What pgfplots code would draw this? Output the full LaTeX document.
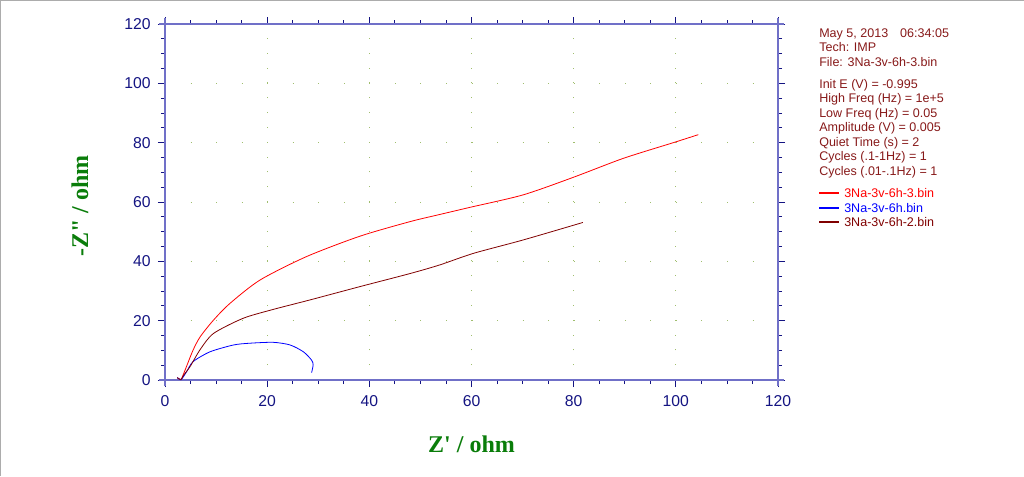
\documentclass[border=0pt]{standalone}
\usepackage{fontspec}
\setmainfont{Liberation Sans}
\newfontfamily\labelfont{Liberation Serif}
\usepackage{pgfplots}
\pgfplotsset{compat=1.18}
\definecolor{axisblue}{RGB}{112,112,200}
\definecolor{tickblue}{RGB}{20,20,130}
\definecolor{labelgreen}{RGB}{10,125,10}
\definecolor{gridolive}{RGB}{160,190,110}
\definecolor{maroonline}{RGB}{128,0,0}
\definecolor{infotext}{RGB}{135,25,25}
\pgfplotsset{imp line/.style={#1, line width=0.6pt, smooth, tension=0.45}}

\begin{document}
\begin{tikzpicture}
\useasboundingbox (0,0) rectangle (768pt,357pt);
\draw[gray!65, line width=0.75pt] (0.375pt,0) -- (0.375pt,356.625pt) -- (768pt,356.625pt);
\begin{axis}[
  at={(123.75pt,72pt)}, anchor=south west,
  scale only axis, width=459.75pt, height=267pt,
  xmin=0, xmax=120, ymin=0, ymax=120,
  xtick={0,20,...,120}, ytick={0,20,...,120},
  minor tick num=3,
  tick align=outside,
  major tick length=5.25pt, minor tick length=3pt,
  every tick/.style={tickblue, line width=0.6pt},
  separate axis lines,
  axis line style={axisblue, line width=1.1pt, shorten <=-4.5pt, shorten >=-4.5pt},
  tick label style={font=\fontsize{11.8}{13}\selectfont, text=tickblue},
  /pgf/number format/assume math mode=true,
  xticklabel style={yshift=-3pt},
  yticklabel style={xshift=-2pt},
  xmajorgrids, ymajorgrids,
  x grid style={gridolive, line width=0.75pt, dash pattern=on 0.75pt off 10.375pt},
  y grid style={gridolive, line width=0.75pt, dash pattern=on 0.75pt off 18.41pt},
  xlabel={\labelfont\bfseries Z\textquotesingle\ / ohm},
  xlabel style={at={(axis description cs:0.5,-0.18)}, anchor=center,
    font=\fontsize{18}{20}\selectfont, text=labelgreen},
  ylabel={\labelfont\bfseries -Z\textquotedbl\ / ohm},
  ylabel style={at={(axis description cs:-0.1387,0.489)}, anchor=center,
    font=\fontsize{18}{20}\selectfont, text=labelgreen},
]
% 3Na-3v-6h-3.bin
\addplot[imp line=red] coordinates {
 (2.4,0.8)(3.1,0.1)(3.5,1.5)(4.2,4.5)(5.5,10.1)(6.9,14.6)(9.5,20.2)(12.7,25.8)
 (18.6,33.7)(27.7,41.6)(38.2,48.5)(48.0,53.4)(53.8,55.8)(59.7,58.2)(70.1,62.4)
 (79.9,68.3)(89.7,74.7)(99.5,80.0)(104.4,82.7)};
% 3Na-3v-6h.bin
\addplot[imp line=blue] coordinates {
 (2.4,0.8)(3.1,0.1)(3.6,1.1)(4.3,3.0)(5.5,6.2)(8.8,9.5)(13.4,11.8)(16.6,12.4)
 (21.2,12.7)(24.5,11.8)(27.1,9.5)(28.7,6.7)(29.0,5.1)(28.7,2.5)};
% 3Na-3v-6h-2.bin
\addplot[imp line=maroonline] coordinates {
 (2.4,0.8)(3.1,0.1)(3.6,1.5)(4.9,4.5)(6.9,10.3)(9.5,15.7)(15.3,20.8)(21.2,23.8)
 (28.4,27.0)(38.2,31.5)(48.0,35.9)(53.8,38.8)(60.4,42.7)(70.1,47.2)(81.8,53.1)};
\end{axis}
% instrument header
\node[anchor=north west, align=left, inner sep=0pt, text=infotext,
  font=\fontsize{9.4}{10.9}\selectfont] at (614.25pt,335.9pt) {%
May 5, 2013\hspace{9pt}06:34:05\\
Tech: IMP\\
File: 3Na-3v-6h-3.bin\\[5.6pt]
Init E (V) = -0.995\\
High Freq (Hz) = 1e+5\\
Low Freq (Hz) = 0.05\\
Amplitude (V) = 0.005\\
Quiet Time (s) = 2\\
Cycles (.1-1Hz) = 1\\
Cycles (.01-.1Hz) = 1};
% legend
\foreach \yy/\cc/\nn in {212.25/red/3Na-3v-6h-3.bin, 201.0/blue/3Na-3v-6h.bin,
    190.5/maroonline/3Na-3v-6h-2.bin} {
  \draw[\cc, line width=1pt] (614.25pt,\yy pt) -- (629.25pt,\yy pt);
  \node[anchor=west, inner sep=0pt, text=\cc, text height=7pt, text depth=3.8pt,
    font=\fontsize{9.4}{10.8}\selectfont] at (633pt,\yy pt-1.6pt) {\nn};
}
\end{tikzpicture}
\end{document}
